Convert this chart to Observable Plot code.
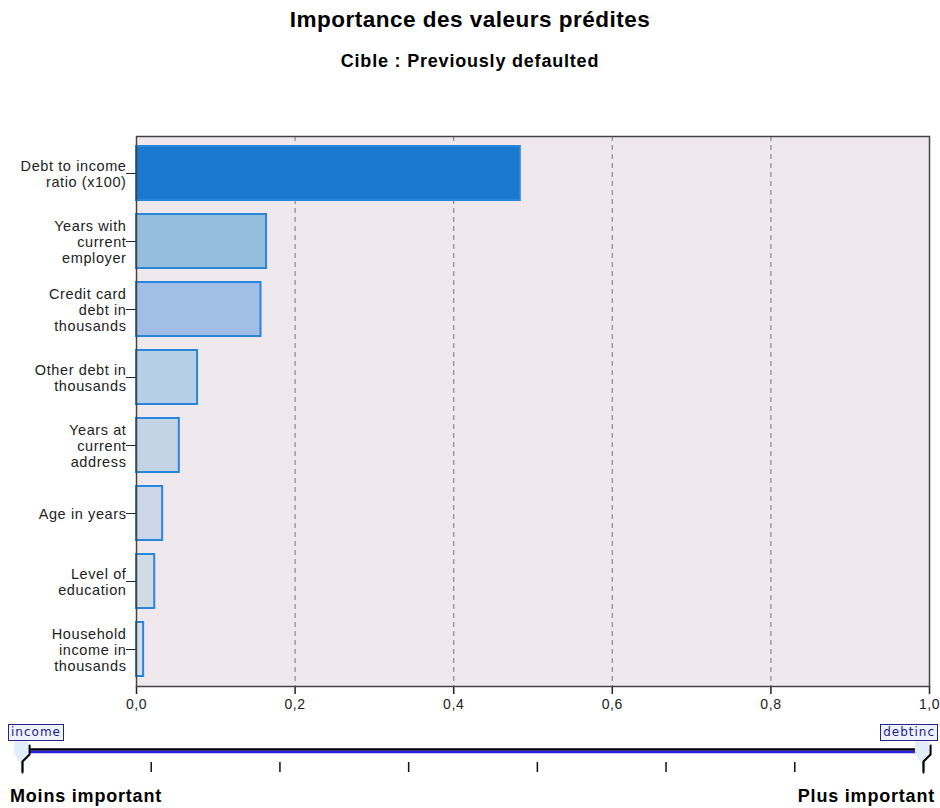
<!DOCTYPE html>
<html>
<head>
<meta charset="utf-8">
<script src="https://cdn.jsdelivr.net/npm/d3@7"></script>
<script src="https://cdn.jsdelivr.net/npm/@observablehq/plot@0.6"></script>
<style>
  body { margin: 0; background: #fff; font-family: "Liberation Sans", Arial, sans-serif; }
  #wrap { position: relative; width: 940px; height: 808px; overflow: hidden; }
  .title { position: absolute; left: 0; width: 940px; text-align: center; font-weight: bold; color: #000; }
  #t1 { top: 7px; font-size: 22.5px; letter-spacing: 0.5px; }
  #t2 { top: 51px; font-size: 18px; letter-spacing: 0.8px; }
  #main { position: absolute; left: 0; top: 100px; }
  #leg { position: absolute; left: 0; top: 720px; }
  .vlab { position: absolute; top: 724px; border: 1px solid #23238f; background: #eef2fc; color: #1c1c8a;
          font: 12px "DejaVu Sans", sans-serif; padding: 0 2px; line-height: 15px; letter-spacing: 1px; }
  .end { position: absolute; top: 786px; font-size: 18px; font-weight: bold; color: #000; letter-spacing: 0.8px; }
</style>
</head>
<body>
<div id="wrap">
  <div class="title" id="t1">Importance des valeurs prédites</div>
  <div class="title" id="t2">Cible : Previously defaulted</div>
  <div id="main"></div>
  <div id="leg"></div>
  <span class="vlab" id="lo" style="left:8px">income</span>
  <span class="vlab" id="hi" style="right:2px">debtinc</span>
  <div class="end" style="left:10px">Moins important</div>
  <div class="end" style="right:5px">Plus important</div>
</div>
<script>
// ---- data ----
const predictors = [
  "Debt to income ratio (x100)",
  "Years with current employer",
  "Credit card debt in thousands",
  "Other debt in thousands",
  "Years at current address",
  "Age in years",
  "Level of education",
  "Household income in thousands"
];
const predictorLabels = [
  "Debt to income\nratio (x100)",
  "Years with\ncurrent\nemployer",
  "Credit card\ndebt in\nthousands",
  "Other debt in\nthousands",
  "Years at\ncurrent\naddress",
  "Age in years",
  "Level of\neducation",
  "Household\nincome in\nthousands"
];
const importance = [0.484, 0.164, 0.157, 0.077, 0.054, 0.033, 0.023, 0.009];
const barColors = ["#1a78cf", "#94bedc", "#a0bee6", "#b5d0e6", "#c5d3e6", "#cbd6e8", "#d0dbe6", "#d3dfea"];
const xTicks = [0, 0.2, 0.4, 0.6, 0.8, 1.0];
const gridTicks = [0.2, 0.4, 0.6, 0.8];
const legendRanks = [0, 1, 2, 3, 4, 5, 6, 7];
const legendEnds = [0, 7];

const rows = predictors.map((p, i) => ({name: p, label: predictorLabels[i], value: importance[i], color: barColors[i]}));
const labelOf = new Map(rows.map(r => [r.name, r.label]));

const main = Plot.plot({
  width: 940,
  height: 620,
  marginTop: 36,
  marginBottom: 34,
  marginLeft: 136,
  marginRight: 11,
  style: {fontFamily: "'Liberation Sans', Arial, sans-serif", fontSize: "14px", color: "#222", background: "transparent", letterSpacing: "0.6px"},
  x: {domain: [0, 1]},
  y: {domain: predictors, paddingInner: 0.2, paddingOuter: 0.1, align: 0.5},
  color: {type: "identity"},
  marks: [
    Plot.frame({fill: "#efe9ee", stroke: null}),
    Plot.ruleX(gridTicks, {stroke: "#8a8a8a", strokeWidth: 1.2, strokeDasharray: "5,4"}),
    Plot.barX(rows, {y: "name", x: "value", fill: "color", stroke: "#2a86dc", strokeWidth: 2, inset: 0}),
    Plot.axisX({ticks: xTicks, tickFormat: d => d.toFixed(1).replace(".", ","), tickSize: 8, tickPadding: 5, fontSize: 14, stroke: "#222", strokeWidth: 1.5, label: null}),
    Plot.axisY({tickFormat: d => labelOf.get(d), tickSize: 10, tickPadding: 0, fontSize: 14.5, lineHeight: 1.1, stroke: "#222", label: null}),
    Plot.frame({stroke: "#444", strokeWidth: 1.5})
  ]
});
document.getElementById("main").appendChild(main);

// ---- bottom importance legend ----
const needle = legendEnds.flatMap(e => [
  {end: e, x: e, y: 52}, {end: e, x: e, y: 41}, {end: e, x: e + 0.055, y: 34}, {end: e, x: e + 0.055, y: 25}
]);
const leg = Plot.plot({
  width: 940,
  height: 88,
  marginLeft: 22,
  marginRight: 17,
  marginTop: 0,
  marginBottom: 0,
  x: {domain: [0, 7], axis: null},
  y: {type: "identity", axis: null},
  style: {background: "transparent"},
  marks: [
    // handles
    Plot.dot(legendEnds, {x: d => d, y: 28, dx: -1, symbol: "square", r: 8, fill: "#e1edfb", stroke: null}),
    Plot.dot(legendEnds, {x: d => d, y: 32, dx: -1, symbol: "diamond", r: 8, fill: "#e1edfb", stroke: null}),
    // slider bar
    Plot.ruleY([29], {x1: 0, x2: 7, insetLeft: 7, insetRight: 8, stroke: "#000", strokeWidth: 2.5}),
    Plot.ruleY([31.5], {x1: 0, x2: 7, insetLeft: 7, insetRight: 8, stroke: "#2424e0", strokeWidth: 2.5}),
    // rank ticks
    Plot.ruleX(legendRanks, {x: d => d, y1: 42, y2: 52, stroke: "#111", strokeWidth: 1.5}),
    // handle needles
    Plot.line(needle, {x: "x", y: "y", z: "end", stroke: "#000", strokeWidth: 2})
  ]
});
document.getElementById("leg").appendChild(leg);
</script>
</body>
</html>
